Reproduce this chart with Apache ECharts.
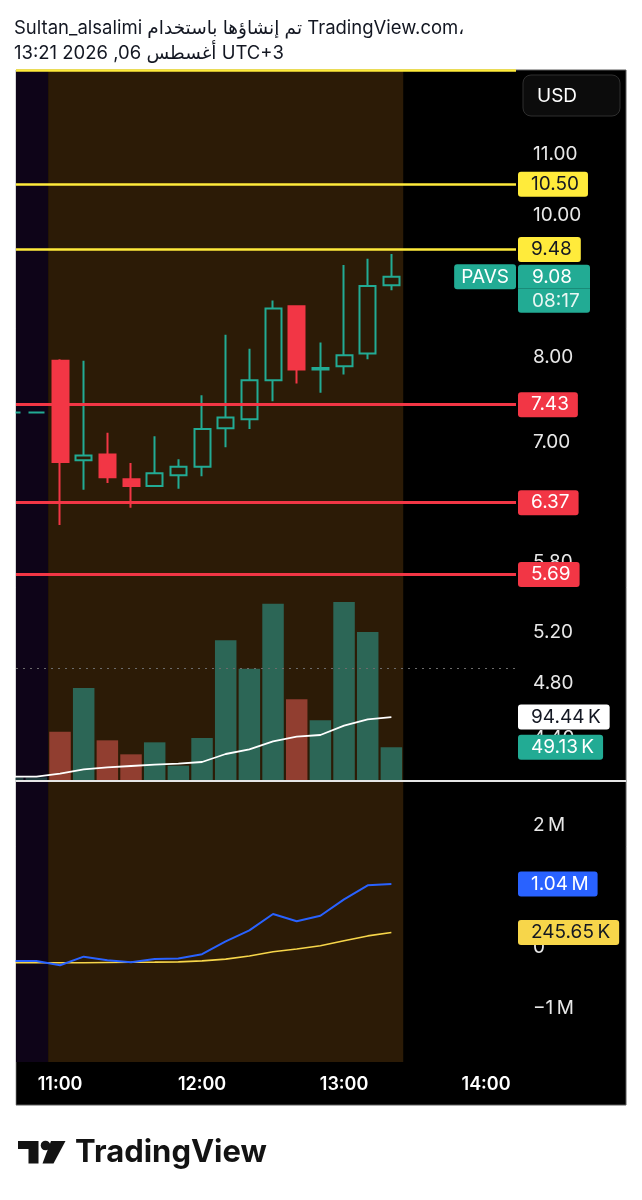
<!DOCTYPE html>
<html><head><meta charset="utf-8">
<script src="https://cdn.jsdelivr.net/npm/echarts@6/dist/echarts.min.js"></script>
<style>html,body{margin:0;padding:0;background:#fff}#c{width:642px;height:1200px}</style>
</head><body><div id="c"></div>
<script>
// ---------- data ----------
const times  = ['10:40','10:50','11:00','11:10','11:20','11:30','11:40','11:50','12:00','12:10','12:20','12:30','12:40','12:50','13:00','13:10','13:20'];
const open   = [7.34, 7.34, 7.96, 6.81, 6.87, 6.61, 6.54, 6.65, 6.74, 7.16, 7.26, 7.72, 8.67, 7.85, 7.89, 8.05, 8.96];
const close  = [7.34, 7.34, 6.79, 6.86, 6.63, 6.54, 6.67, 6.74, 7.15, 7.28, 7.72, 8.64, 7.85, 7.87, 8.03, 8.95, 9.08];
const low    = [7.34, 7.34, 6.15, 6.50, 6.57, 6.32, 6.53, 6.51, 6.64, 6.95, 7.15, 7.47, 7.68, 7.57, 7.79, 7.98, 8.89];
const high   = [7.34, 7.34, 7.98, 7.96, 7.11, 6.78, 7.07, 6.82, 7.54, 8.29, 8.11, 8.75, 8.68, 8.19, 9.25, 9.34, 9.41];
const volume = [4, 4, 72.5, 138, 59.5, 38.5, 56.5, 21.5, 63, 209.5, 167, 264.5, 121, 89.5, 267, 222, 49.13]; // K
const volMA  = [5, 5, 9.5, 16, 19, 21, 23, 24.5, 27, 39, 46, 58, 65, 67.5, 81.5, 91, 94.44];               // K
const indBlue   = [-0.22, -0.22, -0.29, -0.15, -0.21, -0.24, -0.19, -0.18, -0.11, 0.10, 0.28, 0.55, 0.43, 0.52, 0.79, 1.02, 1.04];       // M
const indYellow = [-0.25, -0.25, -0.25, -0.25, -0.245, -0.243, -0.24, -0.235, -0.22, -0.19, -0.14, -0.07, -0.025, 0.03, 0.11, 0.19, 0.24565]; // M
const yellowLevels = [12.55, 10.50, 9.48];
const redLevels    = [7.43, 6.37, 5.69];
const dottedLevel  = 4.91;
const priceTicks   = [4.4, 4.8, 5.2, 5.8, 7, 8, 10, 11];
const indTicks     = [-1, 0, 1, 2];
const hourTicks    = ['11:00', '12:00', '13:00', '14:00'];
const sessionStart = '10:55', sessionEnd = '13:25';
const symbol = 'PAVS', countdown = '08:17', currency = 'USD';
const header1 = 'Sultan_alsalimi تم إنشاؤها باستخدام TradingView.com،';
const header2 = '13:21 2026 ,06 أغسطس UTC+3';

// ---------- helpers ----------
const T = s => { const [h, m] = s.split(':').map(Number); return h * 60 + m; }; // minutes of day
const pad = n => String(n).padStart(2, '0');
const viewMin = T('11:00') - 18.6, viewMax = T('11:00') + 192.65;
const FONT = 'Inter, "DejaVu Sans", sans-serif';
const FS = 19;
const TEAL = '#22ab94', RED = '#f23645', YEL = '#ffeb3b', BLUE = '#2962ff', YEL2 = '#f7d64a';
const BROWN = '#2c1b06', PURPLE = '#0e0418';
const NONE = 'rgba(0,0,0,0)';
const fmtMK = v => Math.abs(v) >= 1 ? v.toFixed(2) + '\u2009M' : (v * 1000).toFixed(2) + '\u2009K';
const preIdx = times.filter(t => T(t) < T(sessionStart)).length;

const candleData = times.map((t, i) => [T(t), open[i], close[i], low[i], high[i]]);
const volData = times.map((t, i) => ({
  value: [T(t), volume[i]],
  itemStyle: { color: i < preIdx ? '#1f3b3d' : (close[i] >= open[i] ? '#2c6656' : '#913e30') }
}));
const last = times.length - 1;

const badge = (bg, fg) => ({
  show: true, position: 'end', distance: 2, backgroundColor: bg, color: fg,
  fontFamily: FONT, fontSize: FS, lineHeight: 19, padding: [3, 9, 3, 13], borderRadius: 3
});
const areas = [
  [{ xAxis: viewMin, itemStyle: { color: PURPLE } }, { xAxis: T(sessionStart) }],
  [{ xAxis: T(sessionStart), itemStyle: { color: BROWN } }, { xAxis: T(sessionEnd) }]
];
const xBase = {
  type: 'value', min: viewMin, max: viewMax,
  axisLine: { show: false }, axisTick: { show: false }, splitLine: { show: false }
};
const hiddenLine = { silent: true, precision: 5, symbol: ['none', 'none'], lineStyle: { color: NONE, width: 1 } };

const chart = echarts.init(document.getElementById('c'), null, { renderer: 'canvas' });
chart.setOption({
  animation: false,
  backgroundColor: '#ffffff',
  grid: [
    { left: 16, right: 126, top: 70, height: 710, outerBoundsMode: 'none' },
    { left: 16, right: 126, top: 782, height: 280, outerBoundsMode: 'none' }
  ],
  xAxis: [
    Object.assign({}, xBase, { gridIndex: 0, axisLabel: { show: false } }),
    Object.assign({}, xBase, { gridIndex: 1,
      axisLabel: { customValues: hourTicks.map(T), color: '#ffffff', fontFamily: FONT, fontSize: 18, fontWeight: 600, margin: 14,
        formatter: v => pad(Math.floor(v / 60)) + ':' + pad(Math.round(v % 60)) } })
  ],
  yAxis: [
    { type: 'log', gridIndex: 0, position: 'right', min: 4.122, max: 12.563,
      axisLine: { show: false }, axisTick: { show: false }, splitLine: { show: false },
      axisLabel: { customValues: priceTicks, color: '#e8e8e8', fontFamily: FONT, fontSize: FS, margin: 17,
        formatter: v => Number(v).toFixed(2) } },
    { type: 'value', gridIndex: 0, min: 0, max: 1065, show: false },
    { type: 'value', gridIndex: 1, position: 'right', min: -1.877, max: 2.713,
      axisLine: { show: false }, axisTick: { show: false }, splitLine: { show: false },
      axisLabel: { customValues: indTicks, color: '#e8e8e8', fontFamily: FONT, fontSize: FS, margin: 17,
        formatter: v => v === 0 ? '0' : (v < 0 ? '\u2212' : '') + Math.abs(v) + '\u2009M' } }
  ],
  series: [
    { type: 'bar', name: 'Volume', xAxisIndex: 0, yAxisIndex: 1, barWidth: 21.5, data: volData, z: 2, clip: true,
      markArea: { silent: true, data: areas },
      markLine: Object.assign({}, hiddenLine, {
        data: [{ yAxis: volume[last], label: Object.assign(badge(TEAL, '#ffffff'), { formatter: p => p.value.toFixed(2) + '\u2009K' }) }] }) },
    { type: 'line', name: 'Vol MA', xAxisIndex: 0, yAxisIndex: 1, symbol: 'none', z: 3, clip: true,
      lineStyle: { color: '#ffffff', width: 1.8 }, data: times.map((t, i) => [T(t), volMA[i]]),
      markLine: Object.assign({}, hiddenLine, {
        data: [{ yAxis: volMA[last], label: Object.assign(badge('#ffffff', '#131722'), { formatter: p => p.value.toFixed(2) + '\u2009K' }) }] }) },
    { type: 'candlestick', name: symbol, xAxisIndex: 0, yAxisIndex: 0, barWidth: 16.5, z: 4, clip: true, data: candleData,
      itemStyle: { color: NONE, color0: RED, borderColor: TEAL, borderColor0: RED, borderWidth: 2, borderColorDoji: TEAL },
      markLine: { silent: true, precision: 5, symbol: ['none', 'none'],
        data: [
          ...yellowLevels.map((v, k) => ({ yAxis: v, lineStyle: { color: YEL, width: 2.5, type: 'solid' },
            label: k === 0 ? { show: false } : Object.assign(badge(YEL, '#131722'), { formatter: p => p.value.toFixed(2) }) })),
          ...redLevels.map(v => ({ yAxis: v, lineStyle: { color: RED, width: 3, type: 'solid' },
            label: Object.assign(badge(RED, '#ffffff'), { formatter: p => p.value.toFixed(2) }) })),
          { yAxis: dottedLevel, lineStyle: { color: '#6b6b6b', width: 1, type: [2, 5] }, label: { show: false } },
          { yAxis: close[last], lineStyle: { color: NONE, width: 1 },
            label: { show: true, position: 'end', distance: 0, align: 'right', formatter: symbol,
              backgroundColor: TEAL, color: '#ffffff', fontFamily: FONT, fontSize: FS, lineHeight: 19, padding: [3, 7, 3, 7], borderRadius: 3 } },
          { yAxis: close[last], lineStyle: { color: NONE, width: 1 },
            label: { show: true, position: 'end', distance: 2, fontFamily: FONT,
              formatter: p => '{e| }\n{a|' + p.value.toFixed(2) + '}\n{b|' + countdown + '}',
              rich: {
                e: { height: 24, lineHeight: 24, fontSize: FS },
                a: { backgroundColor: TEAL, color: '#ffffff', fontFamily: FONT, fontSize: FS, height: 24, lineHeight: 24, width: 58, padding: [0, 0, 0, 14], borderRadius: [3, 3, 0, 0] },
                b: { backgroundColor: TEAL, color: '#e8f7f3', fontFamily: FONT, fontSize: FS, height: 24, lineHeight: 24, width: 58, padding: [0, 0, 0, 14], borderRadius: [0, 0, 3, 3] }
              } } }
        ] } },
    { type: 'line', name: 'Ind A', xAxisIndex: 1, yAxisIndex: 2, symbol: 'none', z: 3, clip: true,
      lineStyle: { color: YEL2, width: 1.6 }, data: times.map((t, i) => [T(t), indYellow[i]]),
      markArea: { silent: true, data: areas },
      markLine: Object.assign({}, hiddenLine, {
        data: [{ yAxis: indYellow[last], label: Object.assign(badge(YEL2, '#131722'), { formatter: p => fmtMK(p.value) }) }] }) },
    { type: 'line', name: 'Ind B', xAxisIndex: 1, yAxisIndex: 2, symbol: 'none', z: 4, clip: true,
      lineStyle: { color: BLUE, width: 2 }, data: times.map((t, i) => [T(t), indBlue[i]]),
      markLine: Object.assign({}, hiddenLine, {
        data: [{ yAxis: indBlue[last], label: Object.assign(badge(BLUE, '#ffffff'), { formatter: p => fmtMK(p.value) }) }] }) }
  ],
  graphic: [
    { type: 'rect', z: -10, silent: true, shape: { x: 16, y: 70, width: 610, height: 1035 }, style: { fill: '#000000', stroke: '#5a5a5a', lineWidth: 1 } },
    { type: 'rect', z: 100, silent: true, shape: { x: 0, y: 60, width: 15.5, height: 1060 }, style: { fill: '#ffffff' } },
    { type: 'line', z: 10, silent: true, shape: { x1: 16, y1: 781, x2: 626, y2: 781 }, style: { stroke: '#e6e6e6', lineWidth: 2 } },
    { type: 'rect', z: 10, silent: true, shape: { x: 523, y: 75, width: 97, height: 41, r: 8 }, style: { fill: '#0c0c0c', stroke: '#2f2f2f', lineWidth: 1 } },
    { type: 'text', z: 11, silent: true, x: 537, y: 96, style: { text: currency, fill: '#ffffff', font: FS + 'px ' + FONT, verticalAlign: 'middle' } },
    { type: 'text', silent: true, x: 14, y: 28, style: { text: header1, fill: '#131722', font: '18.5px ' + FONT, verticalAlign: 'middle' } },
    { type: 'text', silent: true, x: 14, y: 53, style: { text: header2, fill: '#131722', font: '18.5px ' + FONT, verticalAlign: 'middle' } },
    { type: 'polygon', silent: true, shape: { points: [[18, 1141], [38.5, 1141], [38.5, 1163.5], [28.5, 1163.5], [28.5, 1149], [18, 1149]] }, style: { fill: '#131313' } },
    { type: 'circle', silent: true, shape: { cx: 45.5, cy: 1145.5, r: 4.8 }, style: { fill: '#131313' } },
    { type: 'polygon', silent: true, shape: { points: [[51, 1141], [65.5, 1141], [53.5, 1163.5], [42.5, 1163.5]] }, style: { fill: '#131313' } },
    { type: 'text', silent: true, x: 75, y: 1153, style: { text: 'TradingView', fill: '#131313', font: 'bold 31px ' + FONT, verticalAlign: 'middle' } }
  ]
});
</script></body></html>
